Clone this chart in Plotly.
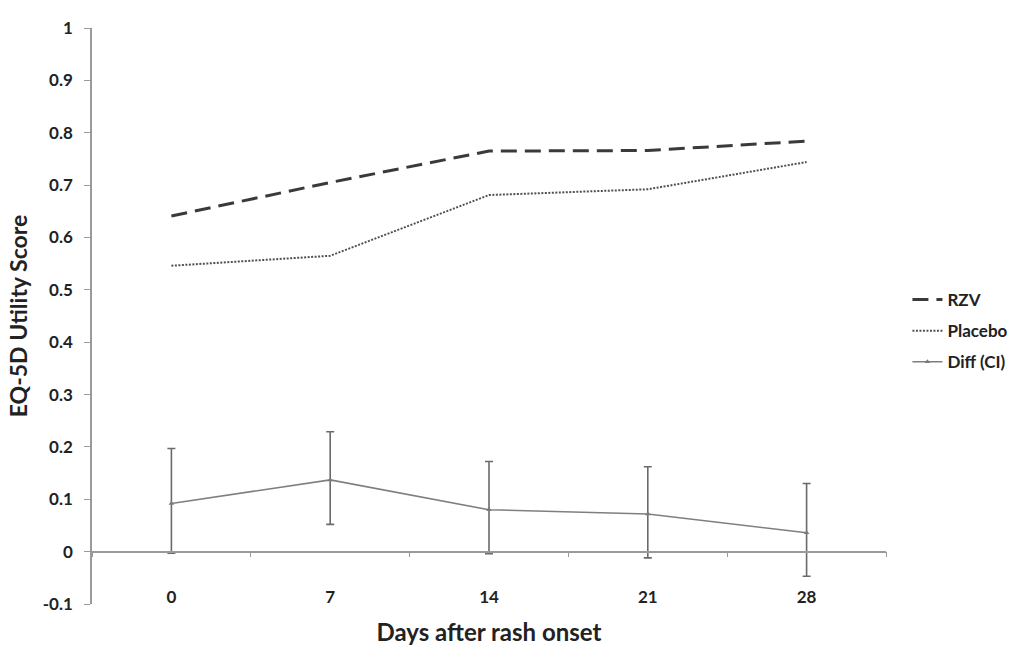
import plotly.graph_objects as go

days = ["0", "7", "14", "21", "28"]
rzv = [0.641, 0.705, 0.765, 0.766, 0.784]
placebo = [0.546, 0.565, 0.681, 0.692, 0.744]
diff = [0.092, 0.137, 0.080, 0.072, 0.036]
diff_upper = [0.197, 0.229, 0.172, 0.162, 0.130]
diff_lower = [-0.003, 0.052, -0.004, -0.012, -0.047]

err_plus = [u - d for u, d in zip(diff_upper, diff)]
err_minus = [d - l for d, l in zip(diff, diff_lower)]

FONT = "Lato"
TXT = "#222222"

fig = go.Figure()
fig.add_trace(go.Scatter(
    x=days, y=rzv, name="RZV", mode="lines", legendgroup="a",
    line=dict(color="#3a3a3a", width=3, dash="16px,8px"),
    xaxis="x2"))
fig.add_trace(go.Scatter(
    x=days, y=placebo, name="Placebo", mode="lines", legendgroup="b",
    line=dict(color="#505050", width=2, dash="2px,1.5px"),
    xaxis="x2"))
fig.add_trace(go.Scatter(
    x=days, y=diff, name="Diff (CI)", mode="lines+markers", legendgroup="c",
    line=dict(color="#7f7f7f", width=1.6),
    marker=dict(symbol="triangle-up", size=5, color="#7a7a7a"),
    error_y=dict(type="data", symmetric=False, array=err_plus,
                 arrayminus=err_minus, color="#6a6a6a", thickness=1.6, width=4),
    xaxis="x"))

fig.update_layout(
    width=1025, height=646,
    margin=dict(l=92, r=133, t=28, b=42),
    paper_bgcolor="white", plot_bgcolor="white",
    font=dict(family=FONT, color=TXT),
    showlegend=True,
    legend=dict(x=1.027, xanchor="left", y=0.474, yanchor="middle",
                font=dict(family=FONT, size=17, color=TXT, weight="bold"),
                itemwidth=30, tracegroupgap=6, bgcolor="rgba(0,0,0,0)"),
    xaxis=dict(
        type="category", categoryorder="array", categoryarray=days,
        range=[-0.5, 4.5], anchor="free", position=0.1 / 1.1,
        showline=True, linecolor="#9a9a9a", linewidth=1.5, automargin=False,
        ticks="outside", tickson="boundaries", ticklen=5, tickcolor="#9a9a9a",
        tickwidth=1.2, showticklabels=False, showgrid=False, zeroline=False),
    xaxis2=dict(
        type="category", categoryorder="array", categoryarray=days,
        range=[-0.5, 4.5], overlaying="x", side="bottom", anchor="y",
        matches="x", showline=False, ticks="", showgrid=False, zeroline=False,
        automargin=False,
        tickfont=dict(family=FONT, size=17, color=TXT, weight="bold"),
        ticklabelstandoff=-19,
        title=dict(text="Days after rash onset", standoff=23,
                   font=dict(family=FONT, size=24, color=TXT, weight="bold"))),
    yaxis=dict(
        range=[-0.1, 1], automargin=False,
        tickvals=[-0.1, 0, 0.1, 0.2, 0.3, 0.4, 0.5, 0.6, 0.7, 0.8, 0.9, 1],
        ticktext=["-0.1", "0", "0.1", "0.2", "0.3", "0.4", "0.5", "0.6", "0.7", "0.8", "0.9", "1"],
        showline=True, linecolor="#9a9a9a", linewidth=1.5,
        ticks="outside", ticklen=6, tickcolor="#9a9a9a", tickwidth=1.2,
        showgrid=False, zeroline=False, ticklabelstandoff=8,
        tickfont=dict(family=FONT, size=17, color=TXT, weight="bold"),
        title=dict(text="EQ-5D Utility Score", standoff=9,
                   font=dict(family=FONT, size=23, color=TXT, weight="bold"))),
)

fig.write_html("out.html")
